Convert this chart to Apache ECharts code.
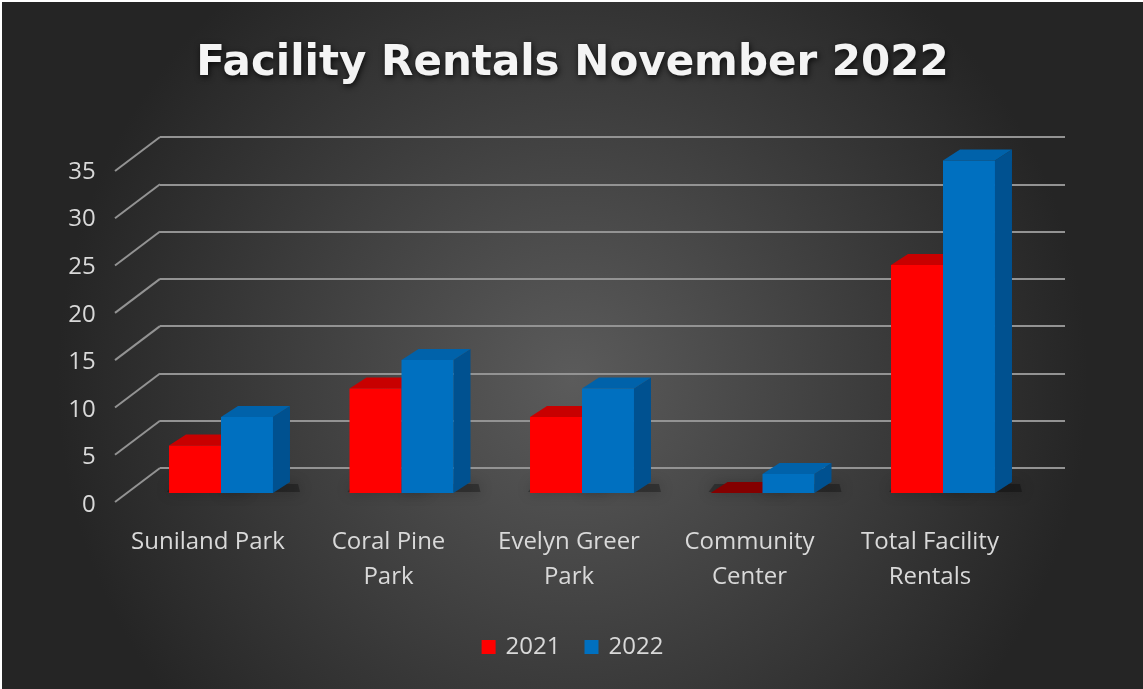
<!DOCTYPE html>
<html>
<head>
<meta charset="utf-8">
<script src="https://cdn.jsdelivr.net/npm/echarts@6/dist/echarts.min.js"></script>
<style>
html,body{margin:0;padding:0;background:#ffffff;width:1143px;height:689px;overflow:hidden;}
#chart{position:absolute;left:2px;top:2px;width:1141px;height:687px;}
</style>
</head>
<body>
<div id="chart"></div>
<script>
var categories = ['Suniland Park', 'Coral Pine\nPark', 'Evelyn Greer\nPark', 'Community\nCenter', 'Total Facility\nRentals'];
var values2021 = [5, 11, 8, 0, 24];
var values2022 = [8, 14, 11, 2, 35];
var yTicks = [0, 5, 10, 15, 20, 25, 30, 35];

var FONT = 'Open Sans';
var LABEL = '#d9d9d9';
var GRIDC = '#939393';

function barRenderer(side, front, top, sideC) {
  return function (params, api) {
    var ci = api.value(0), v = api.value(1);
    var bandW = api.size([1, 0])[0];
    var w = bandW * 0.288;
    var base = api.coord([ci, 0]);
    var tp = api.coord([ci, v]);
    var x0 = side < 0 ? base[0] - w : base[0];
    var x1 = x0 + w;
    var yb = base[1], yt = tp[1];
    var dx = 17, dy = -11;
    var kids = [];
    kids.push({
      type: 'polygon',
      shape: { points: [[x0 - 2, yb - 1], [x1 + dx + 10, yb - 1], [x1 + dx + 8, yb + dy + 2], [x0 + 4, yb + dy + 2]] },
      style: { fill: 'rgba(0,0,0,0.3)', shadowBlur: 14, shadowColor: 'rgba(0,0,0,0.85)' },
      z2: 0
    });
    kids.push({
      type: 'polygon',
      shape: { points: [[x1, yb], [x1 + dx, yb + dy], [x1 + dx, yt + dy], [x1, yt]] },
      style: { fill: sideC }, z2: 1
    });
    kids.push({
      type: 'polygon',
      shape: { points: [[x0, yt], [x0 + dx, yt + dy], [x1 + dx, yt + dy], [x1, yt]] },
      style: { fill: v === 0 ? '#840000' : top }, z2: 2
    });
    kids.push({
      type: 'rect',
      shape: { x: x0, y: yt, width: w, height: yb - yt },
      style: { fill: front }, z2: 3
    });
    return { type: 'group', children: kids };
  };
}

function toData(arr) { return arr.map(function (v, i) { return [i, v]; }); }

var chart = echarts.init(document.getElementById('chart'), null, { renderer: 'canvas' });
var option = {
  backgroundColor: {
    type: 'radial', x: 0.5, y: 0.55, r: 0.75,
    colorStops: [{ offset: 0, color: '#5b5b5b' }, { offset: 1, color: '#252525' }]
  },
  animation: false,
  title: {
    text: 'Facility Rentals November 2022',
    left: 'center', top: 36,
    textStyle: {
      color: '#f4f4f4', fontFamily: 'DejaVu Sans', fontWeight: 'bold', fontSize: 42,
      textShadowColor: 'rgba(0,0,0,0.8)', textShadowBlur: 6, textShadowOffsetX: 1, textShadowOffsetY: 2
    }
  },
  legend: {
    data: ['2021', '2022'],
    left: 'center', top: 628,
    icon: 'rect', itemWidth: 14, itemHeight: 14, itemGap: 24,
    textStyle: { color: LABEL, fontFamily: FONT, fontSize: 24, padding: [0, 0, 0, 5] }
  },
  grid: [
    { left: 128.75, right: 109.75, top: 158.5, bottom: 196 },
    { left: 158, right: 78, top: 135, bottom: 221 },
    { left: 115.75, right: 122.75, top: 170, bottom: 184 }
  ],
  xAxis: [
    { gridIndex: 0, type: 'category', data: categories, show: false },
    { gridIndex: 1, type: 'value', min: 0, max: 1, show: false },
    {
      gridIndex: 2, type: 'category', data: categories,
      axisLine: { show: false }, axisTick: { show: false }, splitLine: { show: false },
      axisLabel: { interval: 0, color: LABEL, fontFamily: FONT, fontSize: 24, lineHeight: 35, margin: 20 }
    }
  ],
  yAxis: [
    { gridIndex: 0, type: 'value', min: 0, max: 35, show: false },
    {
      gridIndex: 1, type: 'value', min: 0, max: 35, interval: 5,
      axisLine: { show: false }, axisTick: { show: false }, axisLabel: { show: false },
      splitLine: { show: true, lineStyle: { color: GRIDC, width: 2 } }
    },
    {
      gridIndex: 2, type: 'value', min: 0, max: 35, interval: 5,
      axisLine: { show: false }, axisTick: { show: false }, splitLine: { show: false },
      axisLabel: { color: LABEL, fontFamily: FONT, fontSize: 24, margin: 22 }
    }
  ],
  series: [
    {
      type: 'custom', name: 'diag', xAxisIndex: 1, yAxisIndex: 1, silent: true,
      data: yTicks.map(function (v) { return [0, v]; }),
      renderItem: function (params, api) {
        var p = api.coord([0, api.value(1)]);
        return {
          type: 'line',
          shape: { x1: p[0] - 45, y1: p[1] + 34, x2: p[0], y2: p[1] },
          style: { stroke: GRIDC, lineWidth: 2 }
        };
      }
    },
    {
      type: 'custom', name: '2021', xAxisIndex: 0, yAxisIndex: 0,
      itemStyle: { color: '#ff0000' },
      data: toData(values2021),
      renderItem: barRenderer(-1, '#ff0000', '#c80000', '#a00000')
    },
    {
      type: 'custom', name: '2022', xAxisIndex: 0, yAxisIndex: 0,
      itemStyle: { color: '#0070c0' },
      data: toData(values2022),
      renderItem: barRenderer(1, '#0070c0', '#0062aa', '#005190')
    }
  ]
};
chart.setOption(option);
</script>
</body>
</html>
